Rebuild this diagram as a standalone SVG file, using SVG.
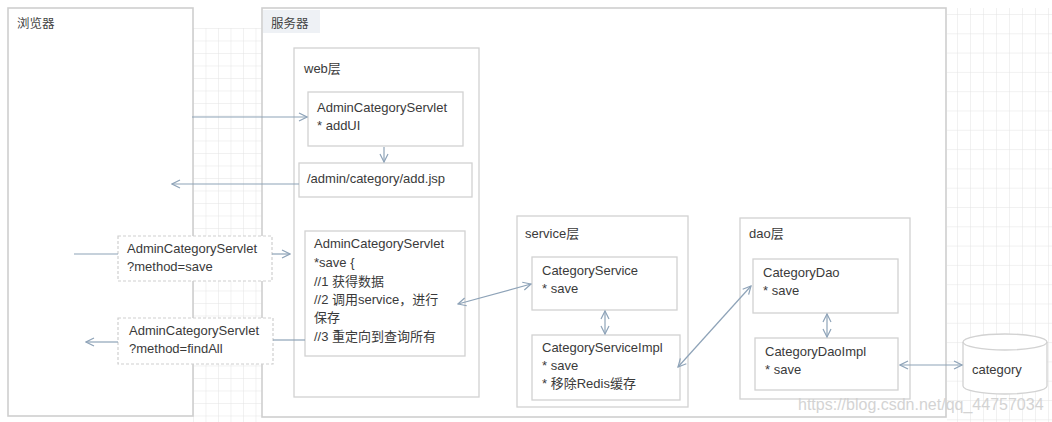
<svg xmlns="http://www.w3.org/2000/svg" width="1052" height="422" viewBox="0 0 1052 422">
<defs>
<style>
.t{font-family:"Liberation Sans","Noto Sans CJK SC",sans-serif;font-size:13px;fill:#3a3a3a}
.lbl{font-family:"Liberation Sans","Noto Sans CJK SC",sans-serif;font-size:12.5px;fill:#444}
.box{fill:#fff;stroke:#d2d2d2;stroke-width:1.3}
.dbox{fill:#fff;stroke:#cfcfcf;stroke-width:1.2;stroke-dasharray:3 2}
.frame{fill:#fff;stroke:#cfcfcf;stroke-width:1.6}
.c{fill:none;stroke:#8ea3b8;stroke-width:1.2}
.wm{font-family:"Liberation Sans",sans-serif;font-size:16px;fill:#cfcfcf;opacity:0.9}
</style>
<marker id="ah" viewBox="0 0 10 10" refX="9" refY="5" markerWidth="10" markerHeight="10" markerUnits="userSpaceOnUse" orient="auto-start-reverse">
<path d="M1,1 L9,5 L1,9" fill="none" stroke="#8ea3b8" stroke-width="1.2"/>
</marker>
<pattern id="gA" x="193" y="28" width="12.5" height="12.5" patternUnits="userSpaceOnUse">
<path d="M0,0 H12.5 M0,0 V12.5" fill="none" stroke="#e4e4e4" stroke-width="1"/>
</pattern>
<pattern id="gB" x="944" y="14" width="13" height="19.3" patternUnits="userSpaceOnUse">
<path d="M0,0 H13 M0,0 V19.3" fill="none" stroke="#e4e4e4" stroke-width="1"/>
</pattern>
</defs>
<rect width="1052" height="422" fill="#fff"/>
<rect x="193" y="28" width="69" height="394" fill="url(#gA)"/>
<rect x="947" y="8" width="105" height="414" fill="url(#gB)"/>

<g id="browser">
<rect class="frame" x="8" y="8" width="185" height="408"/>
<text class="lbl" x="17" y="28">浏览器</text>
</g>

<g id="server">
<rect class="frame" x="262" y="8" width="684" height="409"/>
<rect x="263" y="10" width="57" height="23" fill="#eef1f5"/>
<text class="lbl" x="271" y="28">服务器</text>
</g>

<g id="web-layer">
<rect class="box" x="294" y="48" width="185" height="349"/>
<text class="t" x="304" y="73">web层</text>
</g>

<g id="servlet-addui">
<rect class="box" x="308" y="92" width="155" height="54"/>
<text class="t" x="317" y="112">AdminCategoryServlet</text>
<text class="t" x="317" y="130">* addUI</text>
</g>

<g id="add-jsp">
<rect class="box" x="299" y="163" width="173" height="34"/>
<text class="t" x="307" y="183">/admin/category/add.jsp</text>
</g>

<g id="req-save">
<rect class="dbox" x="118" y="236" width="154" height="45"/>
<text class="t" x="127" y="253">AdminCategoryServlet</text>
<text class="t" x="127" y="271">?method=save</text>
</g>

<g id="req-findall">
<rect class="dbox" x="118" y="318" width="155" height="46"/>
<text class="t" x="129" y="335">AdminCategoryServlet</text>
<text class="t" x="129" y="353">?method=findAll</text>
</g>

<g id="servlet-save">
<rect class="box" x="305" y="231" width="160" height="125"/>
<text class="t" x="314" y="248">AdminCategoryServlet</text>
<text class="t" x="314" y="267">*save {</text>
<text class="t" x="314" y="286">//1 获得数据</text>
<text class="t" x="314" y="304">//2 调用service，进行</text>
<text class="t" x="314" y="322">保存</text>
<text class="t" x="314" y="341">//3 重定向到查询所有</text>
</g>

<g id="service-layer">
<rect class="box" x="517" y="216" width="171" height="191"/>
<text class="t" x="525" y="238">service层</text>
</g>

<g id="category-service">
<rect class="box" x="532" y="257" width="145" height="53"/>
<text class="t" x="542" y="275">CategoryService</text>
<text class="t" x="542" y="293">* save</text>
</g>

<g id="category-service-impl">
<rect class="box" x="532" y="335" width="148" height="65"/>
<text class="t" x="542" y="352">CategoryServiceImpl</text>
<text class="t" x="542" y="370">* save</text>
<text class="t" x="542" y="388">* 移除Redis缓存</text>
</g>

<g id="dao-layer">
<rect class="box" x="740" y="218" width="170" height="181"/>
<text class="t" x="749" y="238">dao层</text>
</g>

<g id="category-dao">
<rect class="box" x="753" y="259" width="145" height="54"/>
<text class="t" x="763" y="277">CategoryDao</text>
<text class="t" x="763" y="295">* save</text>
</g>

<g id="category-dao-impl">
<rect class="box" x="755" y="338" width="143" height="52"/>
<text class="t" x="765" y="356">CategoryDaoImpl</text>
<text class="t" x="765" y="374">* save</text>
</g>

<g id="category-db">
<path d="M963,342 V386 A42,8 0 0 0 1047,386 V342 A42,8 0 0 0 963,342 Z" fill="#fff" stroke="#d2d2d2" stroke-width="1.3"/>
<path d="M963,342 A42,8 0 0 0 1047,342" fill="none" stroke="#d2d2d2" stroke-width="1.3"/>
<text class="t" x="972" y="374">category</text>
</g>

<g id="connectors">
<line class="c" x1="192" y1="117" x2="307" y2="117" marker-end="url(#ah)"/>
<line class="c" x1="299" y1="184" x2="172" y2="184" marker-end="url(#ah)"/>
<line class="c" x1="384" y1="147" x2="384" y2="162" marker-end="url(#ah)"/>
<line class="c" x1="74" y1="254" x2="118" y2="254"/>
<line class="c" x1="272" y1="254" x2="290" y2="254" marker-end="url(#ah)"/>
<line class="c" x1="305" y1="340" x2="273" y2="340"/>
<line class="c" x1="118" y1="342" x2="86" y2="342" marker-end="url(#ah)"/>
<line class="c" x1="458" y1="304" x2="531" y2="284" marker-start="url(#ah)" marker-end="url(#ah)"/>
<line class="c" x1="605" y1="311" x2="605" y2="334" marker-start="url(#ah)" marker-end="url(#ah)"/>
<line class="c" x1="678" y1="367" x2="751" y2="286" marker-start="url(#ah)" marker-end="url(#ah)"/>
<line class="c" x1="827" y1="314" x2="827" y2="337" marker-start="url(#ah)" marker-end="url(#ah)"/>
<line class="c" x1="900" y1="365" x2="962" y2="365" marker-start="url(#ah)" marker-end="url(#ah)"/>
</g>

<text class="wm" x="798" y="410">https://blog.csdn.net/qq_44757034</text>
</svg>
